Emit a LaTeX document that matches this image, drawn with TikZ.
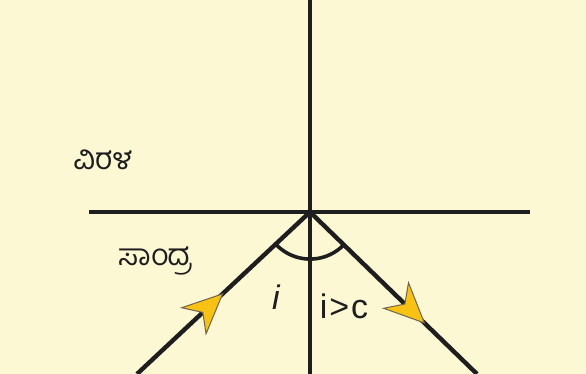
\documentclass[tikz,border=0pt]{standalone}
\usepackage{fontspec}
\setmainfont{Liberation Sans}
\newfontfamily\kanfont[Script=Kannada]{Hind Mysuru}
\usetikzlibrary{arrows.meta,decorations.markings,calc}
\definecolor{bgyellow}{HTML}{FDF8D4}
\definecolor{lineblack}{HTML}{1E1E1E}
\definecolor{tipyellow}{HTML}{F8C215}
\definecolor{tipedge}{HTML}{6E6450}
\tikzset{
  axis/.style={draw=lineblack, line width=4.4pt},
  ray/.style={draw=lineblack, line width=4.4pt},
  yellowtip/.style={postaction={decorate}, decoration={markings,
    mark=at position #1 with {\arrow{Stealth[length=42pt,width=38pt,inset=13pt,line width=1pt,fill=tipyellow,color=tipedge]}}}},
  kan/.style={font=\kanfont\fontsize{30}{34}\selectfont, text=lineblack, inner sep=0pt},
  lab/.style={font=\fontsize{34}{38}\selectfont, text=lineblack, inner sep=0pt}
}
\begin{document}
\begin{tikzpicture}[x=1pt,y=-1pt]
\fill[bgyellow] (0,0) rectangle (586,374);
\useasboundingbox (0,0) rectangle (586,374);
\coordinate (O) at (310,212);
\coordinate (top) at (310,0);
\coordinate (bot) at (310,374);
\coordinate (left) at (89,212);
\coordinate (right) at (530,212);
\coordinate (inc) at (137,374);
\coordinate (refl) at (477,374);
\draw[axis] (top) -- (bot);
\draw[axis] (left) -- (right);
\draw[ray, yellowtip=0.5] (inc) -- (O);
\draw[ray, yellowtip=0.69] (O) -- (refl);
\draw[lineblack, line width=3.6pt] ($(O)!47pt!(inc)$) arc[start angle=137, end angle=44, radius=47];
\node[kan] (rare) at (103,160) {ವಿರಳ};
\node[kan] (dense) at (155,261) {ಸಾಂದ್ರ};
\node[lab, font=\itshape\fontsize{34}{38}\selectfont] (ang) at (276,297) {i};
\node[lab] (cond) at (344,306) {i\kern2pt>\kern2pt c};
\end{tikzpicture}
\end{document}
